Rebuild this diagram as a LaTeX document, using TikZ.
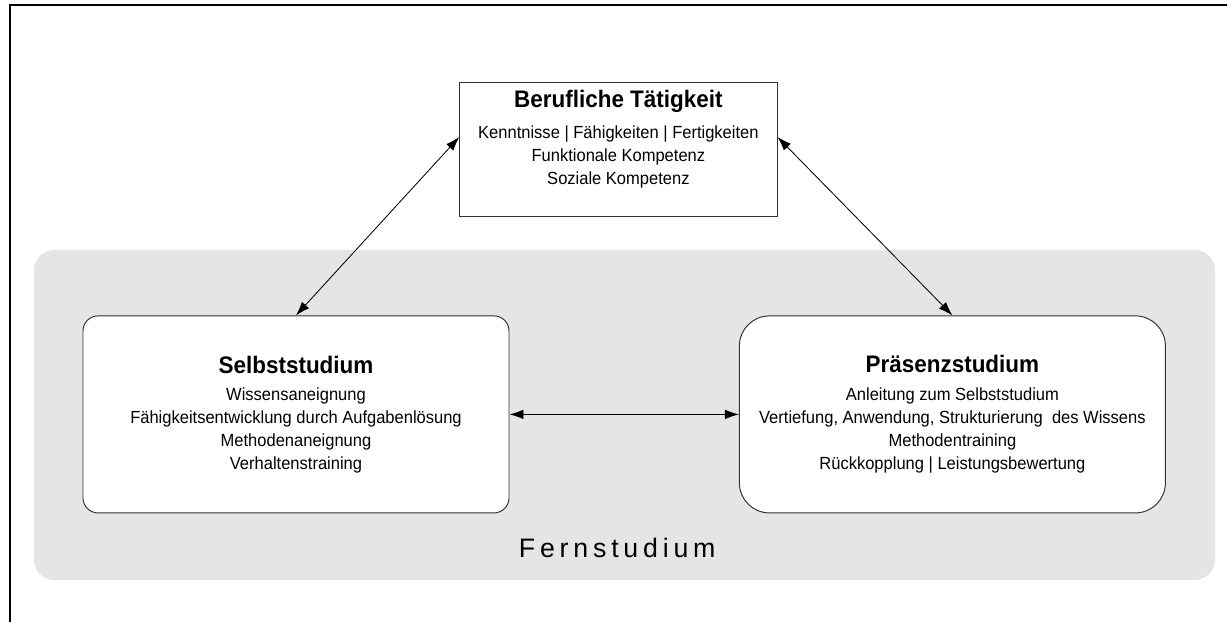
\documentclass[tikz,border=0pt]{standalone}
\usepackage{fontspec}
\setmainfont{Liberation Sans}[FakeStretch=0.94]
\newfontfamily\spacedfont{Liberation Sans}[LetterSpace=18]
\usetikzlibrary{
    arrows.meta % For arrow tips
}

\begin{document}
\begin{tikzpicture}[
    >={Latex[length=3.5mm,width=2.4mm]}, % Filled arrow tips
    frame/.style={line width=1pt},        % Outer frame lines
    region/.style={fill=black!10, rounded corners=0.5cm}, % Grey area
    box/.style={draw=black!80, line width=0.7pt, fill=white, align=center,
        font=\fontsize{12.5}{16.4}\selectfont},
    study/.style={box, minimum width=10.65cm, minimum height=4.925cm},
    link/.style={<->, line width=0.6pt}   % Double headed connectors
]

    \useasboundingbox (0,0) rectangle (30.675,15.55);

    % Frame (top and left only)
    \draw[frame] (0.25,0) -- (0.25,15.425) -- (30.675,15.425);

    % Grey area behind the two study boxes
    \fill[region] (0.85,1.05) rectangle (30.375,9.3);

    % Boxes
    \node[box, minimum width=7.93cm, minimum height=3.35cm] (job) at (15.46,11.825)
        {{\fontsize{17}{20}\selectfont\bfseries Berufliche Tätigkeit}\\[6pt]
         Kenntnisse | Fähigkeiten | Fertigkeiten\\
         Funktionale Kompetenz\\
         Soziale Kompetenz\\};

    \node[study, rounded corners=0.375cm] (self) at (7.4,5.19)
        {{\fontsize{17}{20}\selectfont\bfseries Selbststudium}\\[3pt]
         Wissensaneignung\\
         Fähigkeitsentwicklung durch Aufgabenlösung\\
         Methodenaneignung\\
         Verhaltenstraining};

    \node[study, rounded corners=0.75cm] (presence) at (23.81,5.19)
        {{\fontsize{17}{20}\selectfont\bfseries Präsenzstudium}\\[3pt]
         Anleitung zum Selbststudium\\
         Vertiefung, Anwendung, Strukturierung~ des Wissens\\
         Methodentraining\\
         Rückkopplung | Leistungsbewertung};

    \node (distance) at (15.43,1.85) {\fontsize{19}{21}\spacedfont Fernstudium};

    % Connectors
    \draw[link] ([yshift=3mm]job.west) -- (self.north);
    \draw[link] ([yshift=3mm]job.east) -- (presence.north);
    \draw[link] (self.east) -- (presence.west);

\end{tikzpicture}
\end{document}
